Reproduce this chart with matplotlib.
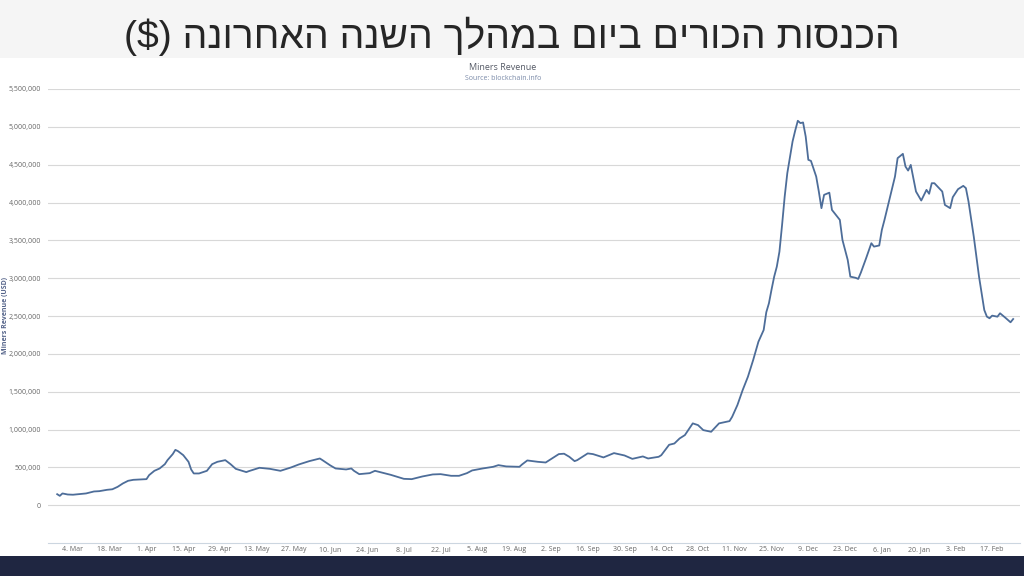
import matplotlib
matplotlib.use("Agg")
import matplotlib.pyplot as plt
import matplotlib.patches as mpatches
import numpy as np

# ---- data ----
title_logical = "הכנסות הכורים ביום במהלך השנה האחרונה ($)"
chart_title = "Miners Revenue"
chart_subtitle = "Source: blockchain.info"
y_axis_title = "Miners Revenue (USD)"

# days since 4 Mar 2017
day_offsets = [-6, -5, -4, -2, 0, 5, 8, 10, 13, 15, 17, 19, 21, 23, 28, 29, 31, 33, 35, 36,
               38, 39, 40, 42, 44, 45, 46, 48, 51, 53, 55, 58, 60, 62, 66, 67, 71, 75, 79, 83,
               86, 90, 94, 95, 98, 100, 104, 106, 107, 109, 113, 115, 121, 126, 129, 133, 137, 140, 144, 147,
               150, 152, 156, 160, 162, 165, 170, 171, 173, 177, 180, 182, 185, 187, 189, 191, 192, 196, 198, 202,
               206, 210, 213, 217, 219, 223, 224, 227, 229, 231, 233, 236, 238, 240, 243, 246, 250, 251, 253, 255,
               257, 259, 261, 263, 264, 265, 266, 267, 268, 269, 270, 271, 272, 273, 274, 275, 276, 277, 278, 279,
               280, 281, 283, 284, 285, 286, 288, 289, 291, 292, 293, 295, 296, 298, 299, 300, 302, 304, 305, 307,
               308, 309, 311, 313, 314, 316, 317, 318, 319, 321, 323, 325, 326, 327, 328, 331, 332, 334, 335, 337,
               339, 340, 341, 343, 345, 347, 348, 349, 350, 352, 353, 355, 357, 358]
revenue_k = [145, 123, 155, 141, 138, 155, 181, 185, 203, 210, 242, 287, 322, 335, 344, 397, 454, 485, 542, 595,
             675, 731, 714, 661, 573, 472, 419, 419, 454, 542, 573, 595, 542, 480, 437, 450, 494, 480, 454, 498,
             538, 582, 617, 595, 525, 485, 472, 485, 454, 410, 423, 454, 401, 348, 344, 379, 406, 410, 388, 388,
             423, 459, 485, 507, 529, 512, 507, 538, 591, 573, 564, 608, 675, 680, 639, 582, 595, 684, 675, 631,
             688, 657, 612, 644, 617, 639, 660, 798, 815, 882, 926, 1081, 1058, 992, 970, 1081, 1111, 1168, 1323, 1521,
             1697, 1918, 2160, 2315, 2550, 2668, 2850, 3020, 3152, 3350, 3700, 4078, 4388, 4600, 4806, 4950, 5080, 5049, 5058, 4872,
             4564, 4550, 4343, 4145, 3925, 4101, 4130, 3902, 3814, 3770, 3505, 3241, 3020, 3005, 2990, 3073, 3263, 3462, 3417, 3432,
             3638, 3770, 4057, 4343, 4586, 4643, 4475, 4422, 4497, 4145, 4026, 4167, 4115, 4255, 4255, 4145, 3968, 3925, 4070, 4176,
             4220, 4190, 4012, 3549, 3020, 2579, 2491, 2470, 2505, 2491, 2536, 2478, 2417, 2460]

tick_days = [0, 14, 28, 42, 56, 70, 84, 98, 112, 126, 140, 154, 168, 182, 196, 210, 224, 238, 252, 266,
             280, 294, 308, 322, 336, 350]
tick_labels = ["4. Mar", "18. Mar", "1. Apr", "15. Apr", "29. Apr", "13. May", "27. May", "10. Jun", "24. Jun",
               "8. Jul", "22. Jul", "5. Aug", "19. Aug", "2. Sep", "16. Sep", "30. Sep", "14. Oct", "28. Oct",
               "11. Nov", "25. Nov", "9. Dec", "23. Dec", "6. Jan", "20. Jan", "3. Feb", "17. Feb"]
y_ticks = [0, 500000, 1000000, 1500000, 2000000, 2500000, 3000000, 3500000, 4000000, 4500000, 5000000, 5500000]


def visual_rtl(s):
    """Reverse logical RTL text into visual order for LTR rendering."""
    swap = {"(": ")", ")": "("}
    return "".join(swap.get(c, c) for c in s[::-1])


W, H = 1024, 576
fig = plt.figure(figsize=(W / 100, H / 100), dpi=100)
fig.patch.set_facecolor("white")

# top title band
fig.add_artist(mpatches.Rectangle((0, 1 - 58 / H), 1, 58 / H, transform=fig.transFigure,
                                  facecolor="#f5f5f5", edgecolor="none", zorder=0))
# bottom dark band
fig.add_artist(mpatches.Rectangle((0, 0), 1, 20 / H, transform=fig.transFigure,
                                  facecolor="#1f2641", edgecolor="none", zorder=0))

fig.text(512 / W, 1 - 36 / H, visual_rtl(title_logical), ha="center", va="center",
         fontsize=28.2, color="#262626", family=["Liberation Sans", "DejaVu Sans"])

fig.text(503 / W, 1 - 68 / H, chart_title, ha="center", va="center", fontsize=6.5,
         color="#555a66", family="Open Sans")
fig.text(503 / W, 1 - 78 / H, chart_subtitle, ha="center", va="center", fontsize=5,
         color="#7a8aa8", family="Open Sans")
fig.text(6 / W, 1 - 315 / H, y_axis_title, ha="center", va="center", rotation=90,
         fontsize=5, color="#55648a", fontweight="bold", family="Open Sans")

ax = fig.add_axes([48 / W, 33 / H, (1020 - 48) / W, (543 - 89) / H])
ax.set_facecolor("none")
x = np.array(day_offsets)
y = np.array(revenue_k) * 1000
ax.plot(x, y, color="#4d6d99", linewidth=1.3, solid_joinstyle="round", zorder=3)

ax.set_xlim(-9.5, 360.6)
ax.set_ylim(-500000, 5500000)
ax.set_yticks(y_ticks)
ax.set_yticklabels([f"{v:,}" for v in y_ticks], fontsize=5, color="#666666", family="Open Sans")
ax.set_xticks(tick_days)
ax.set_xticklabels(tick_labels, fontsize=5, color="#666666", family="Open Sans")
ax.tick_params(axis="both", length=0)
ax.tick_params(axis="x", pad=2)
ax.tick_params(axis="y", pad=5)
ax.grid(axis="y", color="#d8d8d8", linewidth=0.8)
for side in ["top", "right", "left"]:
    ax.spines[side].set_visible(False)
ax.spines["bottom"].set_color("#ccd6e0")
ax.spines["bottom"].set_linewidth(0.8)

fig.savefig("out.png", dpi=100, facecolor=fig.get_facecolor())
